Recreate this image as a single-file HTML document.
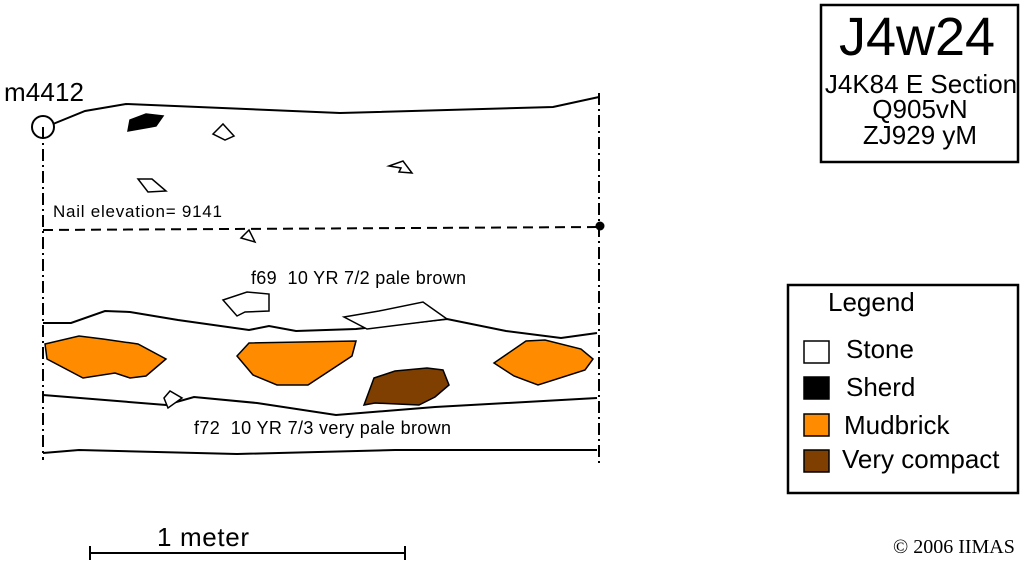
<!DOCTYPE html>
<html><head><style>body{margin:0;background:#fff}svg{display:block}text{white-space:pre}</style></head><body>
<svg width="1024" height="565" xmlns="http://www.w3.org/2000/svg" font-family="Liberation Sans, sans-serif">
<g fill="none" stroke="#000" stroke-width="2">
<line x1="43" y1="127" x2="43" y2="460" stroke-dasharray="12,4,2,4"/>
<line x1="599" y1="93" x2="599" y2="465" stroke-dasharray="12,4,2,4"/>
<circle cx="43" cy="127" r="11"/>
<polyline points="53,124 85,111 126,104 340,113 553,107 599,97"/>
<line x1="43" y1="230" x2="599" y2="227" stroke-dasharray="10,6"/>
<polyline points="43,323 71,323 105,311 130,312 178,320 249,330 269,326 296,331 356,329 447,319 506,331 561,338 597,333"/>
<polyline points="43,395 166,405 194,397 257,403 336,415 435,407 597,398"/>
<polyline points="43,453 79,450 237,454 395,450 597,450"/>
<line x1="90" y1="553" x2="405" y2="553"/>
<line x1="90" y1="546" x2="90" y2="560"/><line x1="405" y1="546" x2="405" y2="560"/>
</g>
<circle cx="600" cy="226" r="4.5"/>
<g stroke="#000" stroke-width="1.5">
<polygon points="128,131 130,120 146,114 163,116 156,126" fill="#000"/>
<g fill="#fff">
<polygon points="213,134 223,124 234,136 225,140"/>
<polygon points="389,166 403,161 412,173 399,172 401,168"/>
<polygon points="138,179 152,179 166,191 148,192"/>
<polygon points="241,238 249,230 255,242"/>
<polygon points="223,300 247,292 269,294 269,311 245,312 237,316"/>
<polygon points="344,317 379,311 423,302 447,319 367,329"/>
<polygon points="164,398 170,391 182,398 168,408"/>
</g>
<polygon fill="#ff8c00" points="45,344 79,336 103,339 138,344 166,359 146,376 130,378 115,373 83,378 47,359"/>
<polygon fill="#ff8c00" points="249,343 356,341 352,356 308,385 277,385 253,375 237,356"/>
<polygon fill="#ff8c00" points="494,363 526,341 545,340 581,349 593,359 585,370 538,385 514,376"/>
<polygon fill="#7f3f00" points="374,378 395,371 427,368 443,370 449,385 435,397 419,405 375,403 364,405"/>
</g>
<text x="4" y="101" font-size="26" textLength="80">m4412</text>
<text x="53" y="217" font-size="17" textLength="169">Nail elevation= 9141</text>
<text x="251" y="284" font-size="18" textLength="215">f69  10 YR 7/2 pale brown</text>
<text x="194" y="434" font-size="18" textLength="257">f72  10 YR 7/3 very pale brown</text>
<text x="157" y="546" font-size="26" textLength="92">1 meter</text>
<rect x="821" y="5" width="197" height="157" fill="none" stroke="#000" stroke-width="2.5"/>
<g text-anchor="middle" font-size="26">
<text x="917" y="55" font-size="54">J4w24</text>
<text x="921" y="93">J4K84 E Section</text>
<text x="920" y="118">Q905vN</text>
<text x="920" y="144">ZJ929 yM</text>
</g>
<rect x="788" y="285" width="230" height="208" fill="none" stroke="#000" stroke-width="2.5"/>
<g font-size="26">
<text x="828" y="311">Legend</text>
<rect x="804" y="341" width="25" height="22" fill="#fff" stroke="#000" stroke-width="1.5"/>
<text x="846" y="358">Stone</text>
<rect x="804" y="377" width="25" height="22" fill="#000" stroke="#000" stroke-width="1.5"/>
<text x="846" y="396">Sherd</text>
<rect x="804" y="414" width="25" height="22" fill="#ff8c00" stroke="#000" stroke-width="1.5"/>
<text x="844" y="434">Mudbrick</text>
<rect x="804" y="450" width="25" height="22" fill="#7f3f00" stroke="#000" stroke-width="1.5"/>
<text x="842" y="468">Very compact</text>
</g>
<text x="893" y="553" font-size="20" font-family="Liberation Serif, serif">© 2006 IIMAS</text>
</svg>
</body></html>
